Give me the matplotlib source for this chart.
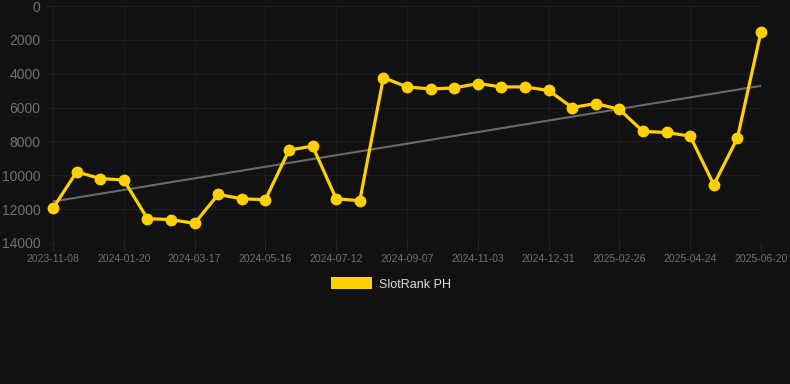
import numpy as np
import matplotlib.pyplot as plt

# rank per observation (category axis, lower rank = better, axis inverted)
ranks = [11950, 9800, 10190, 10280, 12560, 12620, 12840, 11130, 11390, 11440,
         8510, 8280, 11390, 11500, 4230, 4780, 4900, 4840, 4580, 4780,
         4780, 4990, 6000, 5760, 6110, 7410, 7470, 7690, 10560, 7800, 1510]
tick_labels = ['2023-11-08', '2024-01-20', '2024-03-17', '2024-05-16', '2024-07-12',
               '2024-09-07', '2024-11-03', '2024-12-31', '2025-02-26', '2025-04-24',
               '2025-06-20']
y_ticks = [0, 2000, 4000, 6000, 8000, 10000, 12000, 14000]
series_name = 'SlotRank PH'

BG = '#111111'
GOLD = '#FFD000'
TICK_TXT = '#707070'

plt.rcParams['font.family'] = ['Liberation Sans', 'DejaVu Sans']

fig = plt.figure(figsize=(7.9, 3.84), dpi=100, facecolor=BG)
ax = fig.add_axes([53 / 790, 1 - 243 / 384, (761 - 53) / 790, (243 - 6) / 384])
ax.set_facecolor(BG)

x = np.arange(len(ranks))
slope, icept = np.polyfit(x, ranks, 1)
ax.plot(x, slope * x + icept, color='#6a6a6a', linewidth=1.5, zorder=2)
ax.plot(x, ranks, color=GOLD, linewidth=2.3, marker='o', markersize=7.5,
        zorder=3, clip_on=False)

ax.set_xlim(0, len(ranks) - 1)
ax.set_ylim(14000, 0)
ax.set_yticks(y_ticks)
ax.set_yticklabels([str(v) for v in y_ticks])
ax.set_xticks(x[::3])
ax.set_xticklabels(tick_labels)

ax.grid(True, color='#1d1d1d', linewidth=0.8, zorder=0)
for s in ax.spines.values():
    s.set_visible(False)
ax.tick_params(axis='y', length=5, color='#1d1d1d', labelcolor=TICK_TXT,
               labelsize=10, pad=4)
ax.tick_params(axis='x', length=5, color='#262626', labelcolor=TICK_TXT,
               labelsize=7.5, pad=3)

leg = fig.legend([plt.Rectangle((0, 0), 1, 1, facecolor=GOLD)], [series_name],
                 loc='center', bbox_to_anchor=(391 / 790, 1 - 284 / 384),
                 frameon=False, fontsize=9, handlelength=3.3, handleheight=1.1,
                 handletextpad=0.6)
for t in leg.get_texts():
    t.set_color('#dddddd')

fig.savefig('out.png', dpi=100, facecolor=BG)
